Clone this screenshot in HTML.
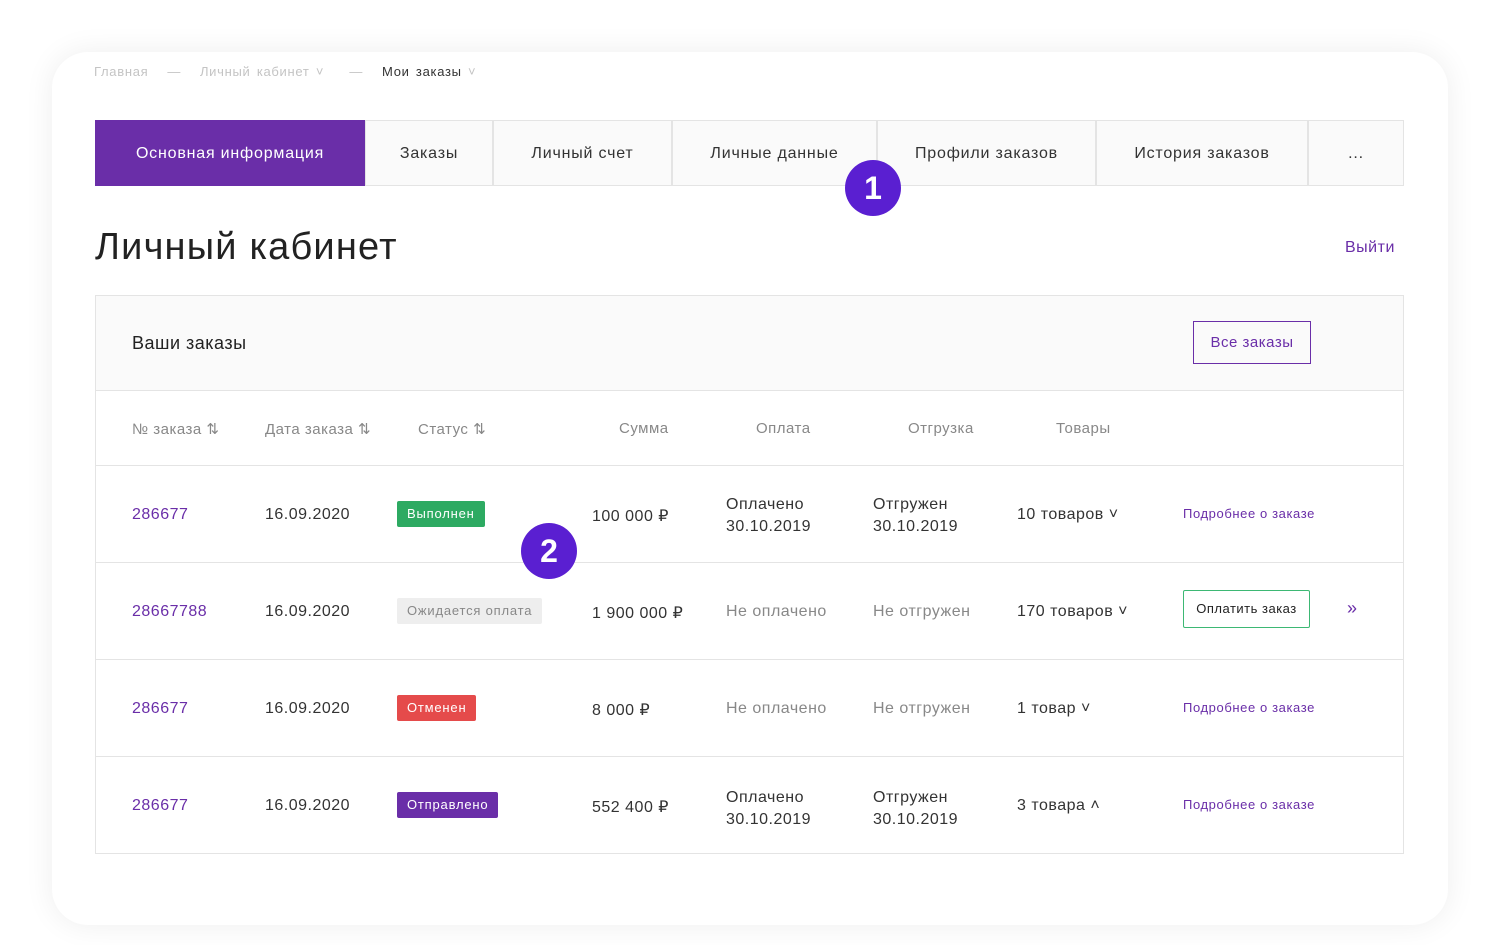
<!DOCTYPE html>
<html><head><meta charset="utf-8"><style>
body{margin:0;width:1500px;height:945px;background:#fff;font-family:"Liberation Sans",sans-serif;position:relative;overflow:hidden;color:#222;letter-spacing:0.5px}
.card{position:absolute;left:52px;top:52px;width:1396px;height:873px;background:#fff;border-radius:36px;box-shadow:0 0 30px rgba(0,0,0,0.07)}
.a{position:absolute;white-space:nowrap}
.tab{position:absolute;top:120px;height:66px;border:1px solid #e4e4e4;background:#fafafa;font-size:16px;color:#333;display:flex;align-items:center;justify-content:center;box-sizing:border-box;padding-top:2px;letter-spacing:0.8px}
.line{position:absolute;left:95px;width:1309px;height:1px;background:#e4e4e4}
.t{font-size:16px;color:#333}
.g{color:#888}
.p{color:#6a2ea8}
.badge{position:absolute;font-size:13px;color:#fff;padding:0 10px;height:26px;line-height:26px;border-radius:2px;letter-spacing:0.8px}
.circ{position:absolute;width:56px;height:56px;border-radius:50%;background:#5a1fd1;color:#fff;font-size:32px;font-weight:bold;text-align:center;line-height:56px;letter-spacing:0}
</style></head><body>
<div class="card"></div>
<div class="a" style="left:94px;top:64px;font-size:13px;color:#c4c4c4;letter-spacing:0.7px;word-spacing:2px">Главная &nbsp; — &nbsp; Личный кабинет ˅ &nbsp;&nbsp; — &nbsp; <span style="color:#333">Мои заказы</span> ˅</div>
<div class="tab" style="left:95px;width:270px;background:#6a2ea8;border-color:#6a2ea8;color:#fff">Основная информация</div>
<div class="tab" style="left:365px;width:128px">Заказы</div>
<div class="tab" style="left:493px;width:179px">Личный счет</div>
<div class="tab" style="left:672px;width:205px">Личные данные</div>
<div class="tab" style="left:877px;width:219px">Профили заказов</div>
<div class="tab" style="left:1096px;width:212px">История заказов</div>
<div class="tab" style="left:1308px;width:96px">...</div>
<div class="circ" style="left:845px;top:160px">1</div>
<div class="a" style="left:95px;top:226px;font-size:38px;color:#222;letter-spacing:1.2px">Личный кабинет</div>
<div class="a p" style="left:1345px;top:239px;font-size:16px">Выйти</div>
<div style="position:absolute;left:95px;top:295px;width:1309px;height:559px;border:1px solid #e4e4e4;box-sizing:border-box"></div>
<div style="position:absolute;left:96px;top:296px;width:1307px;height:94px;background:#fafafa"></div>
<div class="a" style="left:132px;top:333px;font-size:18px;color:#222">Ваши заказы</div>
<div class="a p" style="left:1193px;top:321px;width:116px;height:41px;border:1px solid #6a2ea8;text-align:center;line-height:41px;font-size:15px">Все заказы</div>
<div class="line" style="top:390px"></div><div class="line" style="top:465px"></div><div class="line" style="top:562px"></div><div class="line" style="top:659px"></div><div class="line" style="top:756px"></div>
<div class="a t g" style="left:132px;top:420px;font-size:15px">№ заказа ⇅</div>
<div class="a t g" style="left:265px;top:420px;font-size:15px">Дата заказа ⇅</div>
<div class="a t g" style="left:418px;top:420px;font-size:15px">Статус ⇅</div>
<div class="a t g" style="left:619px;top:420px;font-size:15px">Сумма</div>
<div class="a t g" style="left:756px;top:420px;font-size:15px">Оплата</div>
<div class="a t g" style="left:908px;top:420px;font-size:15px">Отгрузка</div>
<div class="a t g" style="left:1056px;top:420px;font-size:15px">Товары</div>

<div class="a t p" style="left:132px;top:506px">286677</div>
<div class="a t" style="left:265px;top:506px">16.09.2020</div>
<div class="badge" style="left:397px;top:501px;background:#2daa62">Выполнен</div>
<div class="a t" style="left:592px;top:506px">100 000 ₽</div>
<div class="a t" style="left:726px;top:494px;line-height:22px">Оплачено<br>30.10.2019</div>
<div class="a t" style="left:873px;top:494px;line-height:22px">Отгружен<br>30.10.2019</div>
<div class="a t" style="left:1017px;top:506px">10 товаров ˅</div>
<div class="a p" style="left:1183px;top:506px;font-size:13px;letter-spacing:0.6px">Подробнее о заказе</div>

<div class="a t p" style="left:132px;top:603px">28667788</div>
<div class="a t" style="left:265px;top:603px">16.09.2020</div>
<div class="badge" style="left:397px;top:598px;background:#eee;color:#888">Ожидается оплата</div>
<div class="a t" style="left:592px;top:603px">1 900 000 ₽</div>
<div class="a t g" style="left:726px;top:603px">Не оплачено</div>
<div class="a t g" style="left:873px;top:603px">Не отгружен</div>
<div class="a t" style="left:1017px;top:603px">170 товаров ˅</div>
<div class="a" style="left:1183px;top:590px;width:125px;height:36px;border:1px solid #3db874;border-radius:2px;text-align:center;line-height:36px;font-size:13px">Оплатить заказ</div>
<div class="a p" style="left:1347px;top:598px;font-size:18px">»</div>
<div class="circ" style="left:521px;top:523px">2</div>

<div class="a t p" style="left:132px;top:700px">286677</div>
<div class="a t" style="left:265px;top:700px">16.09.2020</div>
<div class="badge" style="left:397px;top:695px;background:#e54b4b">Отменен</div>
<div class="a t" style="left:592px;top:700px">8 000 ₽</div>
<div class="a t g" style="left:726px;top:700px">Не оплачено</div>
<div class="a t g" style="left:873px;top:700px">Не отгружен</div>
<div class="a t" style="left:1017px;top:700px">1 товар ˅</div>
<div class="a p" style="left:1183px;top:700px;font-size:13px;letter-spacing:0.6px">Подробнее о заказе</div>

<div class="a t p" style="left:132px;top:797px">286677</div>
<div class="a t" style="left:265px;top:797px">16.09.2020</div>
<div class="badge" style="left:397px;top:792px;background:#6a2ea8">Отправлено</div>
<div class="a t" style="left:592px;top:797px">552 400 ₽</div>
<div class="a t" style="left:726px;top:787px;line-height:22px">Оплачено<br>30.10.2019</div>
<div class="a t" style="left:873px;top:787px;line-height:22px">Отгружен<br>30.10.2019</div>
<div class="a t" style="left:1017px;top:797px">3 товара ˄</div>
<div class="a p" style="left:1183px;top:797px;font-size:13px;letter-spacing:0.6px">Подробнее о заказе</div>
</body></html>
